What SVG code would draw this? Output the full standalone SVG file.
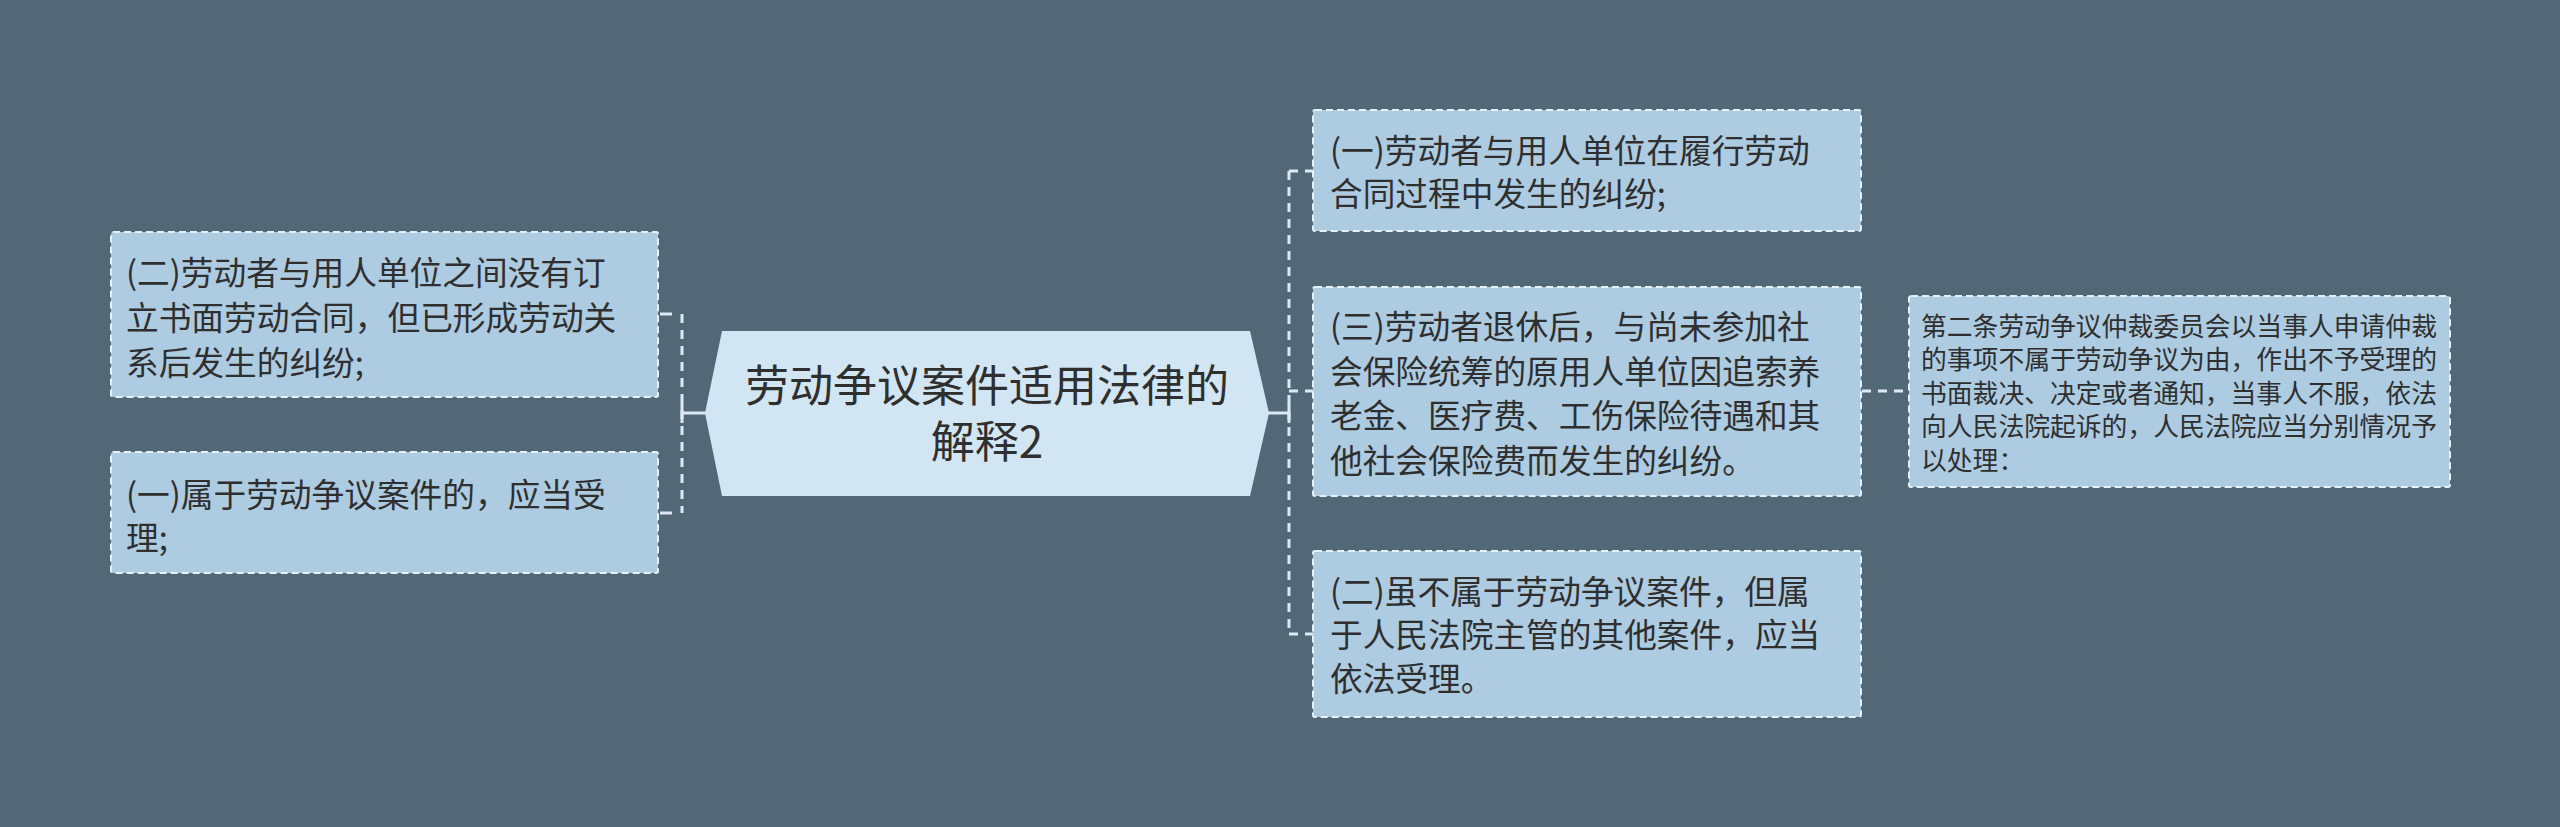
<svg xmlns="http://www.w3.org/2000/svg" width="2560" height="827" viewBox="0 0 2560 827">
<style>
.bg{fill:#536877}
.node{fill:#adcbe1;stroke:#e6f0f7;stroke-width:2;stroke-dasharray:7 4}
.center{fill:#d1e6f2}
.t{font-family:"Noto Sans CJK SC","Noto Sans",sans-serif;fill:#2f2f2f}
.t33{font-size:32.7px}
.t44{font-size:44px}
.t26{font-size:25.8px}
.conn{fill:none;stroke:#dce9f2;stroke-width:3}
.dash{stroke-dasharray:9 7}
</style>
<rect class="bg" x="0" y="0" width="2560" height="827"/>
<g id="connectors">
<path class="conn dash" d="M682 314 V513"/>
<path class="conn" d="M660 314 H672"/>
<path class="conn" d="M660 513 H672"/>
<path class="conn" d="M682 413 H706"/>
<path class="conn" d="M682 403 V423"/>
<path class="conn dash" d="M1289 171 V634"/>
<path class="conn" d="M1266 413 H1289"/>
<path class="conn" d="M1289 403 V423"/>
<path class="conn dash" d="M1289 171 H1313"/>
<path class="conn dash" d="M1289 391 H1313"/>
<path class="conn dash" d="M1289 634 H1313"/>
<path class="conn dash" d="M1862 391 H1909"/>
</g>
<g id="center">
<polygon class="center" points="722,331 1250,331 1269,413 1250,496 722,496 705,413"/>
<text class="t t44" x="987" y="402" text-anchor="middle">劳动争议案件适用法律的</text>
<text class="t t44" x="987" y="458" text-anchor="middle">解释2</text>
</g>
<g id="left1">
<rect class="node" x="111" y="232" width="547" height="165" rx="2"/>
<text class="t t33" x="126" y="285">(二)劳动者与用人单位之间没有订</text>
<text class="t t33" x="126" y="330">立书面劳动合同，但已形成劳动关</text>
<text class="t t33" x="126" y="375">系后发生的纠纷;</text>
</g>
<g id="left2">
<rect class="node" x="111" y="452" width="547" height="121" rx="2"/>
<text class="t t33" x="126" y="507">(一)属于劳动争议案件的，应当受</text>
<text class="t t33" x="126" y="550">理;</text>
</g>
<g id="right1">
<rect class="node" x="1313" y="110" width="548" height="121" rx="2"/>
<text class="t t33" x="1330" y="163">(一)劳动者与用人单位在履行劳动</text>
<text class="t t33" x="1330" y="206">合同过程中发生的纠纷;</text>
</g>
<g id="right2">
<rect class="node" x="1313" y="287" width="548" height="209" rx="2"/>
<text class="t t33" x="1330" y="339">(三)劳动者退休后，与尚未参加社</text>
<text class="t t33" x="1330" y="383.5">会保险统筹的原用人单位因追索养</text>
<text class="t t33" x="1330" y="428">老金、医疗费、工伤保险待遇和其</text>
<text class="t t33" x="1330" y="472.5">他社会保险费而发生的纠纷。</text>
</g>
<g id="right3">
<rect class="node" x="1313" y="551" width="548" height="166" rx="2"/>
<text class="t t33" x="1330" y="604">(二)虽不属于劳动争议案件，但属</text>
<text class="t t33" x="1330" y="647">于人民法院主管的其他案件，应当</text>
<text class="t t33" x="1330" y="691">依法受理。</text>
</g>
<g id="far-right">
<rect class="node" x="1909" y="296" width="541" height="191" rx="2"/>
<text class="t t26" x="1921" y="335.5">第二条劳动争议仲裁委员会以当事人申请仲裁</text>
<text class="t t26" x="1921" y="369">的事项不属于劳动争议为由，作出不予受理的</text>
<text class="t t26" x="1921" y="402.5">书面裁决、决定或者通知，当事人不服，依法</text>
<text class="t t26" x="1921" y="436">向人民法院起诉的，人民法院应当分别情况予</text>
<text class="t t26" x="1921" y="469.5">以处理：</text>
</g>
</svg>
